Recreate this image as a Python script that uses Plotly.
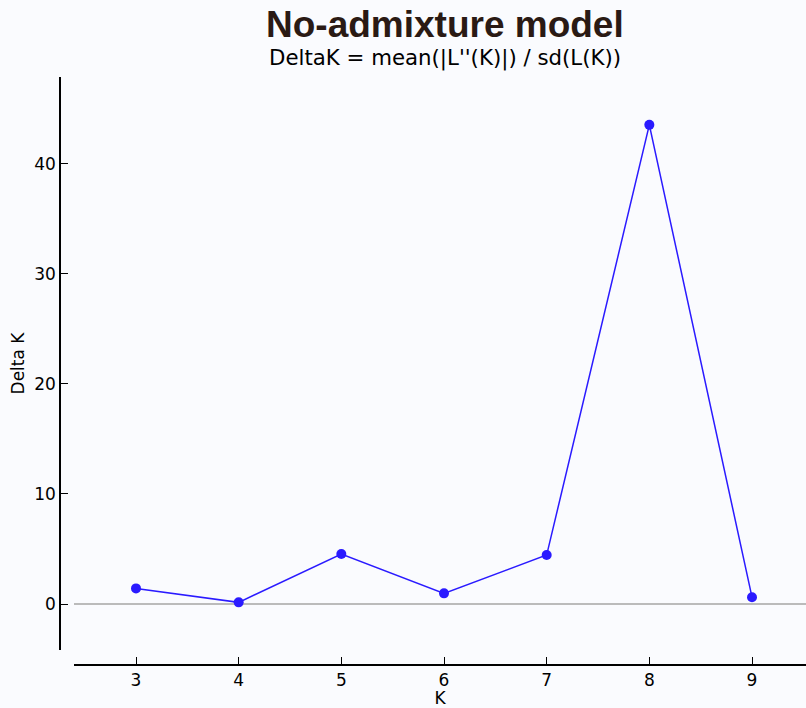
import plotly.graph_objects as go

k_values = [3, 4, 5, 6, 7, 8, 9]
delta_k = [1.42, 0.15, 4.55, 0.97, 4.45, 43.55, 0.62]
y_ticks = [0, 10, 20, 30, 40]

W, H = 806, 708
ml, mr, mt, mb = 60, 0, 77, 43
pw = W - ml - mr
ph = H - mt - mb
bottom_page = H - mb  # 665

fig = go.Figure()
fig.add_trace(go.Scatter(
    x=k_values, y=delta_k, mode="lines+markers",
    line=dict(color="#2a1aff", width=1.5),
    marker=dict(color="#2a1aff", size=10),
    showlegend=False,
))

fig.update_layout(
    width=W, height=H,
    margin=dict(l=ml, r=mr, t=mt, b=mb),
    paper_bgcolor="#fafbfe", plot_bgcolor="#fafbfe",
    font=dict(family="DejaVu Sans", size=17, color="black"),
    xaxis=dict(
        domain=[14 / pw, 1], range=[2.396, 9.526],
        tickvals=k_values, ticks="inside", ticklen=7, tickcolor="black",
        tickfont=dict(size=17),
        showline=True, linecolor="black", linewidth=1.5,
        showgrid=False, zeroline=False,
        anchor="free", position=0,
        title=dict(text="K", standoff=1, font=dict(size=17)),
    ),
    yaxis=dict(
        domain=[15 / ph, 1], range=[-4.18, 47.9],
        tickvals=y_ticks, ticks="inside", ticklen=7, tickcolor="black",
        tickfont=dict(size=17),
        showline=True, linecolor="black", linewidth=1.5,
        showgrid=False, zeroline=True, zerolinecolor="#bbbbbb", zerolinewidth=1.5,
        anchor="free", position=0,
        title=dict(text="Delta K", standoff=4, font=dict(size=17)),
    ),
)

cx = (445 - 60) / pw
fig.add_annotation(
    text="<b>No-admixture model</b>", xref="paper", yref="paper",
    x=cx, y=(bottom_page - 24) / ph, xanchor="center", yanchor="middle",
    showarrow=False, font=dict(family="Liberation Sans", size=37, color="#2a1a14"),
)
fig.add_annotation(
    text="DeltaK = mean(|L''(K)|) / sd(L(K))", xref="paper", yref="paper",
    x=cx, y=(bottom_page - 58) / ph, xanchor="center", yanchor="middle",
    showarrow=False, font=dict(family="DejaVu Sans", size=21.3, color="black"),
)

fig.write_html(
    "out.html",
    config={"displayModeBar": False},
    post_script="document.body.style.margin='0px';document.body.style.overflow='hidden';",
)
